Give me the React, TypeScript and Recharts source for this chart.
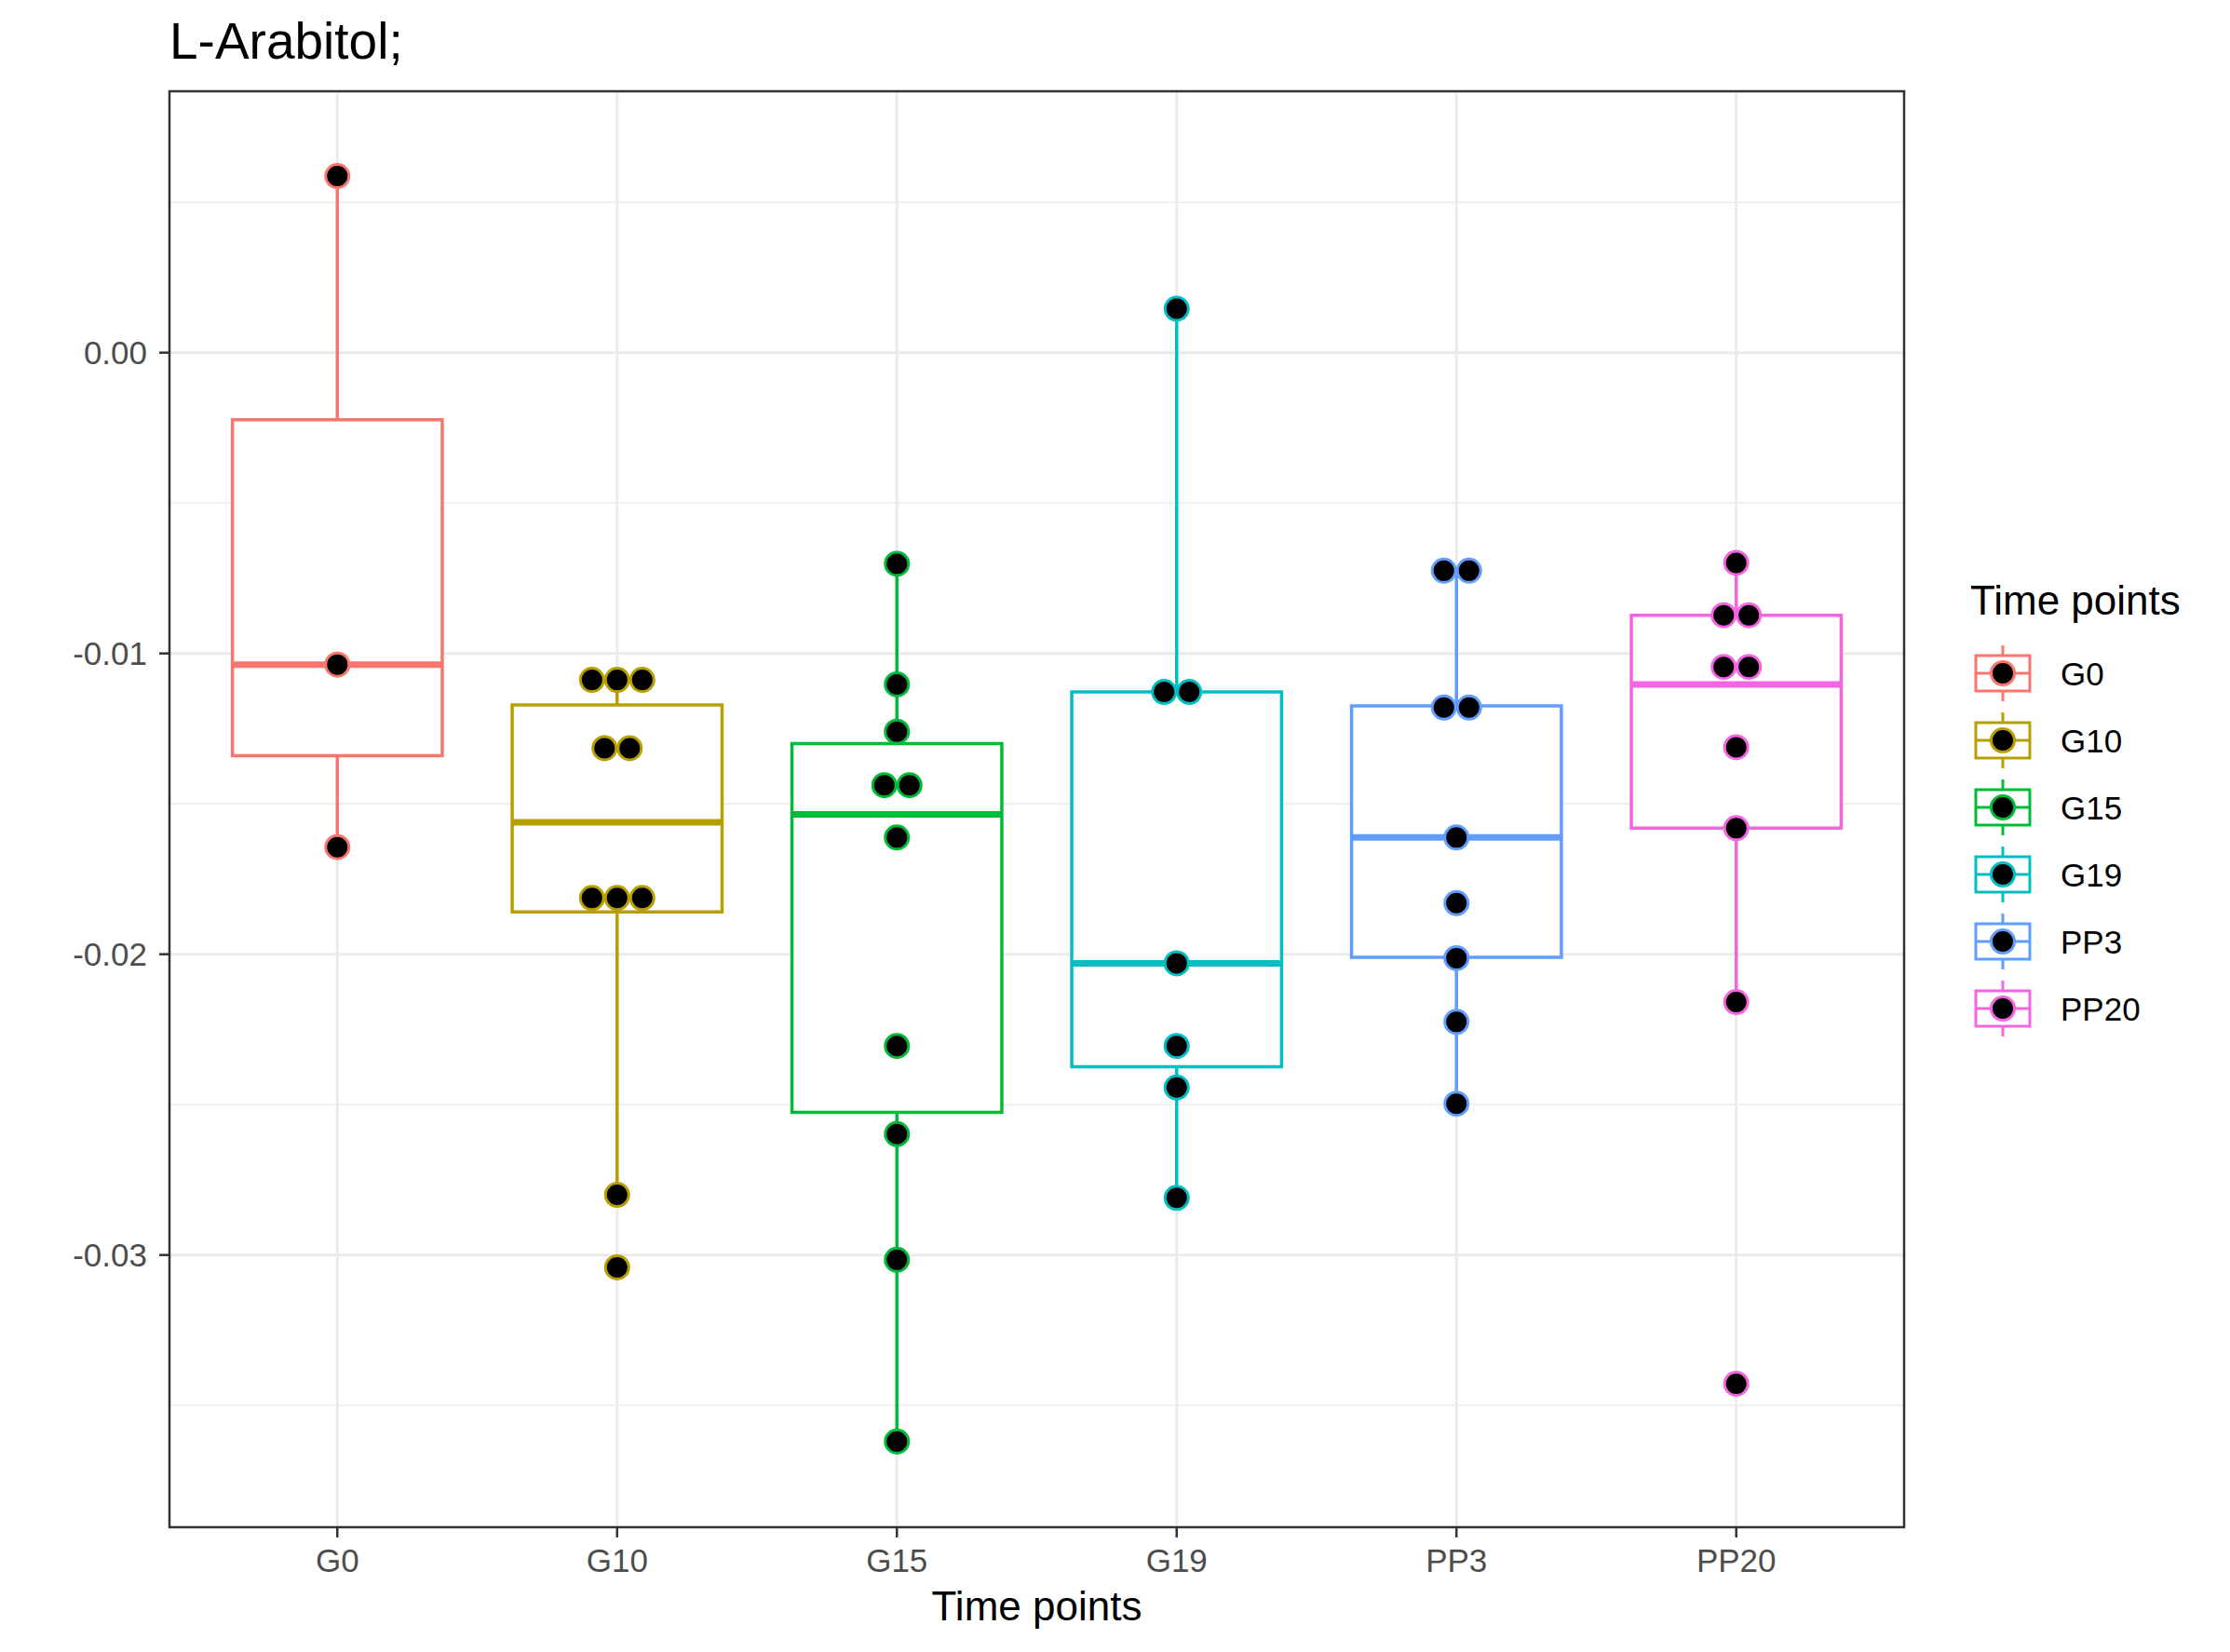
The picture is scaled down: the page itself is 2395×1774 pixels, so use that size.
import React from 'react';
import {
  ComposedChart,
  XAxis,
  YAxis,
  CartesianGrid,
  Scatter,
  ReferenceArea,
  ReferenceLine,
} from 'recharts';

// ---------- data ----------
const categories = ['G0', 'G10', 'G15', 'G19', 'PP3', 'PP20'];
const colors = ['#F8766D', '#B79F00', '#00BA38', '#00BFC4', '#619CFF', '#F564E3'];

const valuesG0 = [0.00587, -0.01037, -0.01644];
const valuesG10 = [-0.01088, -0.01088, -0.01088, -0.01315, -0.01315, -0.01813, -0.01813, -0.01813, -0.028, -0.03041];
const valuesG15 = [-0.00702, -0.01103, -0.0126, -0.01438, -0.01438, -0.01612, -0.02305, -0.02598, -0.03016, -0.0362];
const valuesG19 = [0.00146, -0.01128, -0.01128, -0.0203, -0.02305, -0.02443, -0.0281];
const valuesPP3 = [-0.00725, -0.00725, -0.0118, -0.0118, -0.01612, -0.0183, -0.02013, -0.02225, -0.02497];
const valuesPP20 = [-0.00699, -0.00873, -0.00873, -0.01045, -0.01045, -0.01312, -0.01581, -0.02159, -0.03428];
const groupValues = [valuesG0, valuesG10, valuesG15, valuesG19, valuesPP3, valuesPP20];

const boxQ1 = [-0.0134, -0.01859, -0.02526, -0.02374, -0.0201, -0.01581];
const boxMedian = [-0.01037, -0.01561, -0.01535, -0.0203, -0.01612, -0.01103];
const boxQ3 = [-0.00223, -0.01171, -0.013, -0.01128, -0.01174, -0.00873];
const whiskerLow = [-0.01644, -0.028, -0.0362, -0.0281, -0.02497, -0.02159];
const whiskerHigh = [0.00587, -0.01088, -0.00702, 0.00146, -0.00725, -0.00699];

const yTicks = [-0.03, -0.02, -0.01, 0];
const yMinor = [-0.035, -0.025, -0.015, -0.005, 0.005];
const yDomain = [-0.03905, 0.00869];
const xDomain = [0.4, 6.6];
const xTicks = [1, 2, 3, 4, 5, 6];

const title = 'L-Arabitol;';
const xTitle = 'Time points';
const legendTitle = 'Time points';

// ---------- layout ----------
const W = 2395;
const H = 1774;
const FONT = '"Liberation Sans", Arial, Helvetica, sans-serif';
const BOX_HALF = 0.375;
const DOT_R = 12.5;
const DOT_SPACING = 27;

// build scatter data with tie slots (dots of equal value sit side by side)
const scatterData = groupValues.map((vals, gi) => {
  const counts: Record<string, number> = {};
  vals.forEach((v) => {
    counts[String(v)] = (counts[String(v)] || 0) + 1;
  });
  const seen: Record<string, number> = {};
  return vals.map((v) => {
    const key = String(v);
    const n = counts[key];
    const k = seen[key] || 0;
    seen[key] = k + 1;
    return { x: gi + 1, y: v, slot: k - (n - 1) / 2 };
  });
});

const makeDot = (color: string) => (props: any) => {
  const { cx, cy, payload } = props;
  if (cx == null || cy == null) return <g />;
  return (
    <circle
      cx={cx + payload.slot * DOT_SPACING}
      cy={cy}
      r={DOT_R}
      fill="#000000"
      stroke={color}
      strokeWidth={3}
    />
  );
};

const Legend = () => {
  const x0 = 2122;
  const kw = 58;
  const kh = 38;
  const y0 = 723;
  const step = 72;
  return (
    <g>
      <text x={2116} y={660} fontSize={44} fontFamily={FONT} fill="#000">
        {legendTitle}
      </text>
      {categories.map((c, i) => {
        const cy = y0 + i * step;
        const cx = x0 + kw / 2;
        const col = colors[i];
        return (
          <g key={c}>
            <line x1={cx} x2={cx} y1={cy - kh / 2 - 11} y2={cy - kh / 2} stroke={col} strokeWidth={3} />
            <line x1={cx} x2={cx} y1={cy + kh / 2} y2={cy + kh / 2 + 11} stroke={col} strokeWidth={3} />
            <rect x={x0} y={cy - kh / 2} width={kw} height={kh} fill="#fff" stroke={col} strokeWidth={3} />
            <line x1={x0} x2={x0 + kw} y1={cy} y2={cy} stroke={col} strokeWidth={3} />
            <circle cx={cx} cy={cy} r={DOT_R} fill="#000" stroke={col} strokeWidth={3} />
            <text x={2213} y={cy + 12.5} fontSize={35} fontFamily={FONT} fill="#000">
              {c}
            </text>
          </g>
        );
      })}
    </g>
  );
};

export default function App() {
  return (
    <div style={{ position: 'absolute', left: 0, top: 0, width: W, height: H, background: '#fff' }}>
      <ComposedChart
        width={W}
        height={H}
        margin={{ top: 98, right: 350, bottom: 74, left: 82 }}
        style={{ fontFamily: FONT }}
      >
        <CartesianGrid
          horizontalValues={yMinor}
          vertical={false}
          stroke="#EBEBEB"
          strokeWidth={1.5}
          strokeDasharray=""
        />
        <CartesianGrid
          horizontalValues={yTicks}
          verticalValues={xTicks}
          stroke="#EBEBEB"
          strokeWidth={3}
          strokeDasharray=""
        />
        <XAxis
          type="number"
          dataKey="x"
          domain={xDomain}
          ticks={xTicks}
          interval={0}
          allowDataOverflow
          tickFormatter={(v: number) => categories[v - 1]}
          height={60}
          tickSize={11}
          tickMargin={12}
          axisLine={false}
          tickLine={{ stroke: '#333333', strokeWidth: 2.5 }}
          tick={{ fill: '#4D4D4D', fontSize: 35, fontFamily: FONT }}
        />
        <YAxis
          type="number"
          dataKey="y"
          domain={yDomain}
          ticks={yTicks}
          interval={0}
          allowDataOverflow
          tickFormatter={(v: number) => v.toFixed(2)}
          width={100}
          tickSize={11}
          tickMargin={13}
          axisLine={false}
          tickLine={{ stroke: '#333333', strokeWidth: 2.5 }}
          tick={{ fill: '#4D4D4D', fontSize: 35, fontFamily: FONT }}
        />
        {categories.map((c, i) => (
          <ReferenceLine
            key={'wh' + c}
            segment={[
              { x: i + 1, y: boxQ3[i] },
              { x: i + 1, y: whiskerHigh[i] },
            ]}
            stroke={colors[i]}
            strokeWidth={3.5}
            ifOverflow="visible"
          />
        ))}
        {categories.map((c, i) => (
          <ReferenceLine
            key={'wl' + c}
            segment={[
              { x: i + 1, y: boxQ1[i] },
              { x: i + 1, y: whiskerLow[i] },
            ]}
            stroke={colors[i]}
            strokeWidth={3.5}
            ifOverflow="visible"
          />
        ))}
        {categories.map((c, i) => (
          <ReferenceArea
            key={'box' + c}
            x1={i + 1 - BOX_HALF}
            x2={i + 1 + BOX_HALF}
            y1={boxQ1[i]}
            y2={boxQ3[i]}
            fill="#ffffff"
            fillOpacity={1}
            stroke={colors[i]}
            strokeWidth={3.5}
            ifOverflow="visible"
          />
        ))}
        {categories.map((c, i) => (
          <ReferenceLine
            key={'med' + c}
            segment={[
              { x: i + 1 - BOX_HALF, y: boxMedian[i] },
              { x: i + 1 + BOX_HALF, y: boxMedian[i] },
            ]}
            stroke={colors[i]}
            strokeWidth={7}
            ifOverflow="visible"
          />
        ))}
        <ReferenceArea
          x1={xDomain[0]}
          x2={xDomain[1]}
          y1={yDomain[0]}
          y2={yDomain[1]}
          fill="none"
          stroke="#333333"
          strokeWidth={2.5}
          ifOverflow="visible"
        />
        {categories.map((c, i) => (
          <Scatter
            key={'sc' + c}
            name={c}
            data={scatterData[i]}
            dataKey="y"
            shape={makeDot(colors[i])}
            isAnimationActive={false}
          />
        ))}
      </ComposedChart>
      <svg
        width={W}
        height={H}
        style={{ position: 'absolute', left: 0, top: 0, pointerEvents: 'none' }}
      >
        <text x={182} y={63} fontSize={55} fontFamily={FONT} fill="#000">
          {title}
        </text>
        <text x={1113.5} y={1740} fontSize={44} fontFamily={FONT} fill="#000" textAnchor="middle">
          {xTitle}
        </text>
        <Legend />
      </svg>
    </div>
  );
}
